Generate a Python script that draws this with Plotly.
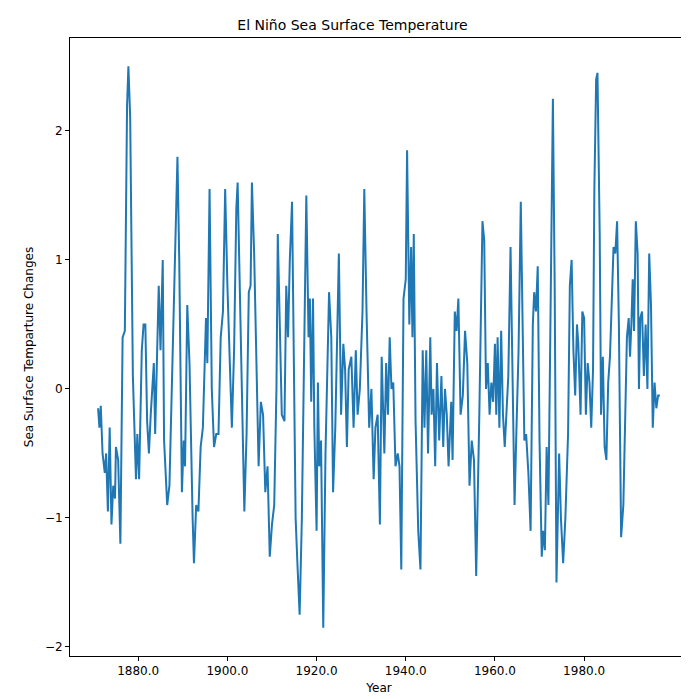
import plotly.graph_objects as go

years = [1871.0, 1871.3, 1871.6, 1872.0, 1872.5, 1872.8, 1873.2, 1873.6, 1874.0, 1874.4, 1874.8,
         1875.0, 1875.5, 1876.0, 1876.5, 1877.0, 1877.5, 1877.8, 1878.2, 1878.8, 1879.5, 1879.8,
         1880.2, 1880.8, 1881.2, 1881.6, 1882.0, 1882.4, 1882.8, 1883.2, 1883.5, 1883.8, 1884.3,
         1884.6, 1885.0, 1885.5, 1885.8, 1886.5, 1887.0, 1887.5, 1888.0, 1888.5, 1888.8, 1889.2,
         1889.8, 1890.2, 1890.5, 1891.0, 1891.5, 1892.2, 1892.5, 1893.0, 1893.5, 1894.0, 1894.5,
         1895.2, 1895.5, 1896.0, 1896.5, 1897.0, 1897.5, 1898.0, 1898.5, 1899.0, 1899.5, 1900.0,
         1900.5, 1901.0, 1901.5, 1902.0, 1902.3, 1902.8, 1903.3, 1903.8, 1904.3, 1904.8, 1905.2,
         1905.5, 1906.0, 1906.5, 1907.0, 1907.5, 1908.0, 1908.5, 1909.0, 1909.5, 1910.0, 1910.5,
         1911.0, 1911.3, 1911.8, 1912.2, 1912.8, 1913.2, 1913.6, 1914.0, 1914.5, 1914.8, 1915.3,
         1915.7, 1916.2, 1916.7, 1917.2, 1917.7, 1918.2, 1918.5, 1918.8, 1919.2, 1919.5, 1920.0,
         1920.3, 1920.6, 1921.0, 1921.5, 1922.0, 1922.5, 1922.8, 1923.3, 1923.7, 1924.2, 1924.6,
         1925.0, 1925.5, 1926.0, 1926.4, 1926.8, 1927.2, 1927.8, 1928.3, 1928.8, 1929.2, 1929.7,
         1930.3, 1930.7, 1931.2, 1931.8, 1932.3, 1932.8, 1933.2, 1933.7, 1934.2, 1934.6, 1935.2,
         1935.6, 1936.0, 1936.4, 1936.8, 1937.2, 1937.7, 1938.2, 1938.6, 1939.0, 1939.5, 1940.0,
         1940.3, 1940.8, 1941.2, 1941.5, 1941.8, 1942.2, 1942.8, 1943.3, 1943.8, 1944.2, 1944.6,
         1945.0, 1945.5, 1945.8, 1946.2, 1946.6, 1947.0, 1947.5, 1948.0, 1948.4, 1948.8, 1949.2,
         1949.6, 1950.2, 1950.5, 1951.0, 1951.4, 1951.8, 1952.3, 1952.8, 1953.3, 1953.8, 1954.3,
         1954.8, 1955.3, 1955.8, 1956.5, 1957.2, 1957.6, 1958.0, 1958.4, 1958.8, 1959.2, 1959.6,
         1960.0, 1960.3, 1960.6, 1961.0, 1961.4, 1961.8, 1962.2, 1962.6, 1963.0, 1963.5, 1964.0,
         1964.4, 1964.8, 1965.3, 1965.8, 1966.2, 1966.6, 1967.0, 1967.5, 1968.0, 1968.5, 1968.8,
         1969.2, 1969.6, 1970.0, 1970.5, 1970.8, 1971.2, 1971.6, 1972.0, 1972.5, 1973.0, 1973.4,
         1973.8, 1974.4, 1974.8, 1975.3, 1975.8, 1976.4, 1976.8, 1977.2, 1977.6, 1978.0, 1978.4,
         1978.7, 1979.2, 1979.6, 1980.0, 1980.4, 1980.8, 1981.2, 1981.6, 1982.0, 1982.3, 1982.7,
         1983.0, 1983.5, 1983.8, 1984.2, 1984.6, 1985.0, 1985.4, 1985.8, 1986.3, 1986.6, 1987.0,
         1987.4, 1987.8, 1988.3, 1988.8, 1989.2, 1989.6, 1990.0, 1990.3, 1990.6, 1990.9, 1991.2,
         1991.6, 1992.0, 1992.3, 1992.6, 1993.0, 1993.4, 1993.8, 1994.2, 1994.6, 1995.0, 1995.4,
         1995.8, 1996.2, 1996.6, 1997.0]

sst_change = [-0.15, -0.3, -0.13, -0.5, -0.65, -0.5, -0.95, -0.3, -1.05, -0.75, -0.85,
              -0.45, -0.55, -1.2, 0.4, 0.45, 2.2, 2.5, 2.1, 0.1, -0.7, -0.35,
              -0.7, 0.3, 0.5, 0.5, -0.25, -0.5, -0.2, 0.1, 0.2, -0.35, 0.3,
              0.8, 0.3, 1.0, -0.4, -0.9, -0.75, 0.0, 0.6, 1.3, 1.8, 1.0,
              -0.8, -0.4, -0.6, 0.65, 0.2, -1.0, -1.35, -0.9, -0.95, -0.45, -0.3,
              0.55, 0.2, 1.55, 0.0, -0.45, -0.35, -0.35, 0.4, 0.6, 1.55, 0.8,
              0.2, -0.3, 0.3, 1.4, 1.6, 0.8, 0.0, -0.95, -0.35, 0.75, 0.8,
              1.6, 1.05, 0.2, -0.6, -0.1, -0.2, -0.8, -0.6, -1.3, -1.05, -0.9,
              0.0, 1.2, 0.5, -0.2, -0.25, 0.8, 0.4, 1.0, 1.45, 0.6, -1.0,
              -1.35, -1.75, -1.0, 0.4, 1.5, 0.4, 0.7, -0.1, 0.7, -0.3, -1.1,
              0.05, -0.6, -0.4, -1.85, -0.5, 0.35, 0.75, 0.4, -0.8, -0.3, 0.5,
              1.05, -0.2, 0.35, 0.15, -0.45, 0.15, 0.25, -0.3, 0.3, -0.2, 0.0,
              0.6, 1.55, 0.6, -0.3, 0.0, -0.7, -0.3, -0.2, -1.05, 0.25, -0.5,
              0.2, -0.2, 0.4, 0.0, 0.05, -0.6, -0.5, -0.6, -1.4, 0.7, 0.85,
              1.85, 0.5, 1.1, 0.4, 1.2, -0.25, -1.1, -1.4, 0.3, -0.3, 0.3,
              -0.5, 0.4, -0.2, 0.0, -0.6, 0.2, -0.4, 0.1, -0.45, 0.0, -0.2,
              -0.6, -0.1, -0.55, 0.6, 0.45, 0.7, -0.2, -0.05, 0.45, 0.2, -0.75,
              -0.4, -0.55, -1.45, -0.2, 1.3, 1.15, 0.0, 0.2, -0.2, 0.05, -0.1,
              0.35, -0.2, 0.4, -0.3, 0.45, -0.2, -0.45, -0.2, 0.1, 1.1, 0.05,
              -0.9, -0.35, 0.3, 1.45, 0.3, -0.4, -0.35, -0.65, -1.1, 0.5, 0.75,
              0.6, 0.95, -0.4, -1.3, -1.1, -1.25, -0.45, -0.9, 0.6, 2.25, 0.8,
              -1.5, -0.5, -1.0, -1.35, -1.0, -0.35, 0.8, 1.0, 0.3, -0.05, 0.5,
              0.35, -0.2, 0.6, 0.55, -0.2, 0.2, 0.05, -0.3, 0.15, 1.55, 2.4,
              2.45, 1.2, -0.2, 0.25, -0.45, -0.55, 0.05, 0.25, 0.75, 1.1, 1.05,
              1.3, 0.5, -1.15, -0.9, -0.3, 0.4, 0.55, 0.25, 0.5, 0.85, 0.45,
              1.3, 1.05, 0.0, 0.55, 0.6, 0.1, 0.5, 0.0, 1.05, 0.65, -0.3,
              0.05, -0.15, -0.05, -0.05]

x_ticks = [1880, 1900, 1920, 1940, 1960, 1980]

fig = go.Figure()
fig.add_trace(go.Scatter(x=years, y=sst_change, mode="lines",
                         line=dict(color="#1f77b4", width=2)))

axis_style = dict(showgrid=False, zeroline=False, showline=True, mirror=True,
                  linecolor="black", linewidth=1, ticks="outside", ticklen=4,
                  tickcolor="black", tickfont=dict(size=12, color="black"),
                  automargin=False)

fig.update_layout(
    width=689, height=699,
    margin=dict(l=62, r=9, t=30, b=51),
    paper_bgcolor="white", plot_bgcolor="white",
    font=dict(family="DejaVu Sans", size=12, color="black"),
    title=dict(text="El Niño Sea Surface Temperature", x=0.5, xanchor="center",
               y=0.975, yanchor="middle", font=dict(size=14)),
    showlegend=False,
    xaxis=dict(range=[1864.7, 2003.3], tickvals=x_ticks,
               ticktext=[f"{t:.1f}" for t in x_ticks],
               title=dict(text="Year", standoff=6, font=dict(size=12)), **axis_style),
    yaxis=dict(range=[-2.07, 2.72], tickvals=[-2, -1, 0, 1, 2],
               title=dict(text="Sea Surface Temparture Changes", standoff=8,
                          font=dict(size=12)), **axis_style),
)

fig.write_html("out.html")
